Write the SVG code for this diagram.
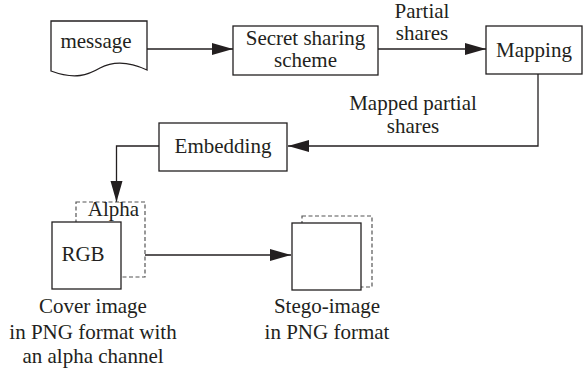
<svg xmlns="http://www.w3.org/2000/svg" width="588" height="375" viewBox="0 0 588 375">
<style>
text{font-family:'Liberation Serif','Times New Roman','DejaVu Serif',Times,serif;font-size:21px;fill:#231f20;text-anchor:middle}
.box{fill:#fff;stroke:#231f20;stroke-width:1.3}
.dash{fill:none;stroke:#555;stroke-width:1.2;stroke-dasharray:4 2.5}
.con{fill:none;stroke:#231f20;stroke-width:1.3}
</style>
<defs>
<marker id="ah" markerUnits="userSpaceOnUse" markerWidth="22" markerHeight="14" refX="21" refY="6" orient="auto">
<path d="M0,0 L21,6 L0,12 Z" fill="#231f20"/>
</marker>
</defs>
<g id="connectors">
<path class="con" d="M147,49 H233" marker-end="url(#ah)"/>
<path class="con" d="M378,49 H486" marker-end="url(#ah)"/>
<path class="con" d="M538,74 V146 H288" marker-end="url(#ah)"/>
<path class="con" d="M159,146 H116.5 V202" marker-end="url(#ah)"/>
<path class="con" d="M145,255 H291" marker-end="url(#ah)"/>
</g>
<g id="message">
<path class="box" d="M51,21 H147 V70 C130,62 115,60 100,68 C88,75 75,80 51,71 Z"/>
<text x="96" y="48">message</text>
</g>
<g id="secret">
<rect class="box" x="233" y="26" width="145" height="49"/>
<text x="305.5" y="45">Secret sharing</text>
<text x="305.5" y="67">scheme</text>
</g>
<g id="partial-label">
<text x="422" y="18">Partial</text>
<text x="422" y="40">shares</text>
</g>
<g id="mapping">
<rect class="box" x="486" y="26" width="96" height="48"/>
<text x="534" y="57">Mapping</text>
</g>
<g id="mapped-label">
<text x="413" y="110">Mapped partial</text>
<text x="413" y="133">shares</text>
</g>
<g id="embedding">
<rect class="box" x="159" y="123" width="128" height="48"/>
<text x="223" y="153">Embedding</text>
</g>
<g id="cover">
<rect class="dash" x="76" y="202" width="69" height="75"/>
<text x="113.5" y="216">Alpha</text>
<rect class="box" x="52" y="222" width="69" height="67"/>
<text x="83" y="261">RGB</text>
<text x="93" y="313">Cover image</text>
<text x="93" y="339">in PNG format with</text>
<text x="93" y="363">an alpha channel</text>
</g>
<g id="stego">
<rect class="dash" x="302" y="216" width="70" height="71"/>
<rect class="box" x="292" y="223" width="69" height="67"/>
<text x="327" y="313">Stego-image</text>
<text x="327" y="339">in PNG format</text>
</g>
</svg>
